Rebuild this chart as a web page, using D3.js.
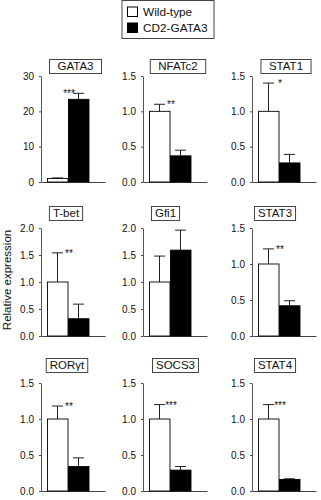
<!DOCTYPE html>
<html lang="en">
<head>
<meta charset="UTF-8" />
<title>Relative expression</title>
<script src="https://d3js.org/d3.v7.min.js"></script>
<style>
  body { margin: 0; background: #fff; font-family: "Liberation Sans", Arial, sans-serif; }
  .axis path, .axis line { stroke: #444; }
  .axis text { font-size: 10px; fill: #111; font-family: "Liberation Sans", Arial, sans-serif; }
</style>
</head>
<body>
<svg width="321" height="500"></svg>
<script>
// values per gene (wild-type normalised to 1)
const genes = ["GATA3", "NFATc2", "STAT1", "T-bet", "Gfi1", "STAT3", "RORγt", "SOCS3", "STAT4"];
const groups = ["Wild-type", "CD2-GATA3"];
const wtMean = [1, 1, 1, 1, 1, 1, 1, 1, 1];
const wtErr = [0.15, 0.1, 0.4, 0.54, 0.48, 0.21, 0.18, 0.2, 0.2];
const tgMean = [23.4, 0.37, 0.27, 0.32, 1.59, 0.42, 0.34, 0.29, 0.16];
const tgErr = [1.7, 0.08, 0.12, 0.27, 0.37, 0.07, 0.12, 0.05, 0.01];
const yMax = [30, 1.5, 1.5, 2, 2, 1.5, 1.5, 1.5, 1.5];
const yTicks = [
  [0, 10, 20, 30],
  [0, 0.5, 1, 1.5], [0, 0.5, 1, 1.5],
  [0, 0.5, 1, 1.5, 2], [0, 0.5, 1, 1.5, 2],
  [0, 0.5, 1, 1.5], [0, 0.5, 1, 1.5], [0, 0.5, 1, 1.5], [0, 0.5, 1, 1.5]
];
const stars = ["***", "**", "*", "**", "", "**", "**", "***", "***"];

// grid layout
const colX = [41, 143, 252];
const rowTop = [76, 228, 383];
const rowBase = [182, 336, 491];
const titleTop = [59, 206, 358];
const titleCx = [75.5, 178, 286, 66, 165.5, 275, 67, 175.5, 275];
const titlePad = [8, 3.5, 3.5];

const svg = d3.select("svg");

// legend
const legend = svg.append("g").attr("transform", "translate(122,0.5)");
legend.append("rect").attr("width", 92).attr("height", 38)
  .attr("fill", "#fff").attr("stroke", "#444");
groups.forEach((g, i) => {
  legend.append("rect")
    .attr("x", 5.5).attr("y", 6.5 + i * 16).attr("width", 10).attr("height", 9.5)
    .attr("fill", i ? "#000" : "#fff").attr("stroke", "#000");
  legend.append("text")
    .attr("x", 21).attr("y", 15 + i * 16)
    .attr("font-size", 11.8).attr("fill", "#111").text(g);
});

// y label
svg.append("text")
  .attr("transform", "translate(11,280) rotate(-90)")
  .attr("text-anchor", "middle")
  .attr("font-size", 11.5).attr("fill", "#111")
  .text("Relative expression");

genes.forEach((gene, i) => {
  const r = Math.floor(i / 3), c = i % 3;
  const ox = colX[c];
  const g = svg.append("g");

  const y = d3.scaleLinear().domain([0, yMax[i]]).range([rowBase[r], rowTop[r]]);
  const x = d3.scaleBand().domain(groups).range([ox + 6, ox + 48]).padding(0);
  const xa = d3.scaleLinear().domain([0, 1]).range([ox, ox + 64]);

  const fmt = yMax[i] > 5 ? d3.format("d") : d3.format(".1f");
  g.append("g").attr("class", "axis")
    .attr("transform", `translate(${ox},0)`)
    .call(d3.axisLeft(y).tickValues(yTicks[i]).tickFormat(fmt)
      .tickSize(2).tickSizeOuter(0).tickPadding(5))
    .call(a => a.select(".domain").attr("stroke-width", 0.9));

  g.append("g").attr("class", "axis")
    .attr("transform", `translate(0,${rowBase[r]})`)
    .call(d3.axisBottom(xa).tickValues([]).tickSizeOuter(0));

  const rows = [
    { grp: groups[0], m: wtMean[i], e: wtErr[i] },
    { grp: groups[1], m: tgMean[i], e: tgErr[i] }
  ];

  // error bars (upper only)
  rows.forEach(d => {
    const cx = x(d.grp) + x.bandwidth() / 2;
    g.append("line")
      .attr("x1", cx).attr("x2", cx)
      .attr("y1", y(d.m)).attr("y2", y(d.m + d.e))
      .attr("stroke", "#222");
    g.append("line")
      .attr("x1", cx - 5.5).attr("x2", cx + 5.5)
      .attr("y1", y(d.m + d.e)).attr("y2", y(d.m + d.e))
      .attr("stroke", "#222");
  });

  g.selectAll(".bar").data(rows).join("rect")
    .attr("class", "bar")
    .attr("x", d => x(d.grp) + 0.5)
    .attr("y", d => y(d.m))
    .attr("width", x.bandwidth() - 0.5)
    .attr("height", d => y(0) - y(d.m))
    .attr("fill", d => d.grp === groups[0] ? "#fff" : "#000")
    .attr("stroke", "#000").attr("stroke-width", 0.9);

  // significance
  if (stars[i]) {
    const top = Math.min(y(wtMean[i] + wtErr[i]), y(tgMean[i] + tgErr[i]));
    g.append("text")
      .attr("x", x(groups[1]) + 1).attr("y", top + 4)
      .attr("text-anchor", "middle")
      .attr("font-size", 10).attr("fill", "#111")
      .text(stars[i]);
  }

  // gene title box
  const box = g.append("rect");
  const t = g.append("text")
    .attr("x", titleCx[i]).attr("y", titleTop[r] + 11)
    .attr("text-anchor", "middle")
    .attr("font-size", 11.5).attr("fill", "#111")
    .text(gene);
  const w = t.node().getComputedTextLength() + 2 * titlePad[r];
  box.attr("x", titleCx[i] - w / 2).attr("y", titleTop[r] + 0.5)
    .attr("width", w).attr("height", 14)
    .attr("fill", "#fff").attr("stroke", "#444");
});
</script>
</body>
</html>
